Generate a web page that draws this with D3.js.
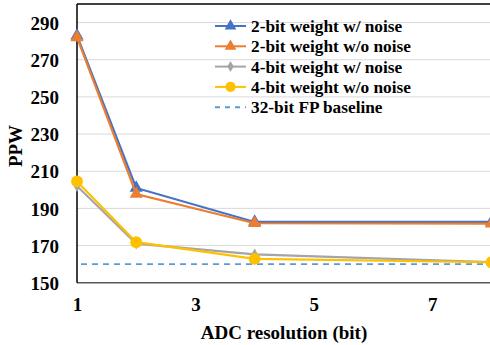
<!DOCTYPE html>
<html>
<head>
<meta charset="utf-8">
<script src="https://cdn.jsdelivr.net/npm/d3@7/dist/d3.min.js"></script>
<style>
  body { margin: 0; background: #fff; }
  svg { display: block; }
</style>
</head>
<body>
<div id="chart"></div>
<script>
// data
var adcBits = [1, 2, 4, 8];
var w2Noise = [283, 201, 182.7, 182.7];
var w2NoNoise = [282, 197.7, 182, 181.8];
var w4Noise = [202, 171, 165.2, 161];
var w4NoNoise = [204.5, 171.8, 162.8, 161];
var fpBaseline = 160;
var yTicks = [150, 170, 190, 210, 230, 250, 270, 290];
var xTicks = [1, 3, 5, 7];
var seriesNames = ["2-bit weight w/ noise", "2-bit weight w/o noise", "4-bit weight w/ noise", "4-bit weight w/o noise", "32-bit FP baseline"];

var FONT = "Liberation Serif";
var W = 490, H = 345;
var svg = d3.select("#chart").append("svg").attr("width", W).attr("height", H);

var x = d3.scaleLinear().domain([1, 8]).range([77, 491.5]);
var y = d3.scaleLinear().domain([150, 300]).range([282.7, 4]);

// grid
svg.append("g").selectAll("line").data(yTicks.slice(1)).enter().append("line")
  .attr("x1", x(1)).attr("x2", W)
  .attr("y1", function(d) { return y(d); }).attr("y2", function(d) { return y(d); })
  .attr("stroke", "#d9d9d9").attr("stroke-width", 1);

// frame
svg.append("line").attr("x1", x(1)).attr("x2", W).attr("y1", y(300)).attr("y2", y(300))
  .attr("stroke", "#000").attr("stroke-width", 1.5);
svg.append("line").attr("x1", x(1)).attr("x2", W).attr("y1", y(150)).attr("y2", y(150))
  .attr("stroke", "#595959").attr("stroke-width", 1.5);
svg.append("line").attr("x1", x(1)).attr("x2", x(1)).attr("y1", y(300)).attr("y2", y(150))
  .attr("stroke", "#000").attr("stroke-width", 1.5);

// axes labels
var yAxis = d3.axisLeft(y).tickValues(yTicks).tickSize(0).tickPadding(18);
var gy = svg.append("g").attr("transform", "translate(" + x(1) + ",0)").call(yAxis);
gy.select(".domain").remove();
gy.attr("font-family", FONT).attr("font-size", 19).attr("font-weight", "bold");
gy.selectAll("text").attr("fill", "#000").attr("dy", "0.35em");

var xAxis = d3.axisBottom(x).tickValues(xTicks).tickFormat(d3.format("d")).tickSize(0).tickPadding(15);
var gx = svg.append("g").attr("transform", "translate(0," + y(150) + ")").call(xAxis);
gx.select(".domain").remove();
gx.attr("font-family", FONT).attr("font-size", 19).attr("font-weight", "bold");
gx.selectAll("text").attr("fill", "#000");

svg.append("text").attr("x", 284).attr("y", 339).attr("text-anchor", "middle")
  .attr("font-family", FONT).attr("font-size", 19).attr("font-weight", "bold")
  .text("ADC resolution (bit)");
svg.append("text").attr("transform", "translate(22,146) rotate(-90)").attr("text-anchor", "middle")
  .attr("font-family", FONT).attr("font-size", 19).attr("font-weight", "bold")
  .text("PPW");

// baseline
svg.append("line").attr("x1", x(1) + 4).attr("x2", W)
  .attr("y1", y(fpBaseline)).attr("y2", y(fpBaseline))
  .attr("stroke", "#5b9bd5").attr("stroke-width", 1.8).attr("stroke-dasharray", "6,5");

var series = [
  { vals: w4Noise, color: "#a5a5a5", shape: d3.symbolDiamond, size: 40 },
  { vals: w4NoNoise, color: "#ffc000", shape: d3.symbolCircle, size: 110 },
  { vals: w2Noise, color: "#4472c4", shape: d3.symbolTriangle, size: 75 },
  { vals: w2NoNoise, color: "#ed7d31", shape: d3.symbolTriangle, size: 75 }
];

var line = d3.line().x(function(d) { return x(d[0]); }).y(function(d) { return y(d[1]); });

series.forEach(function(s) {
  var pts = adcBits.map(function(b, i) { return [b, s.vals[i]]; });
  svg.append("path").datum(pts).attr("d", line)
    .attr("fill", "none").attr("stroke", s.color).attr("stroke-width", 2.2);
  svg.append("g").selectAll("path").data(pts).enter().append("path")
    .attr("d", d3.symbol().type(s.shape).size(s.size))
    .attr("transform", function(d) { return "translate(" + x(d[0]) + "," + y(d[1]) + ")"; })
    .attr("fill", s.color);
});

// legend
var legendItems = [
  { color: "#4472c4", shape: d3.symbolTriangle, size: 60 },
  { color: "#ed7d31", shape: d3.symbolTriangle, size: 60 },
  { color: "#a5a5a5", shape: d3.symbolDiamond, size: 35 },
  { color: "#ffc000", shape: d3.symbolCircle, size: 80 },
  { color: "#5b9bd5", dash: true }
];
var lg = svg.append("g");
legendItems.forEach(function(it, i) {
  var ly = 26 + i * 20.3;
  var row = lg.append("g").attr("transform", "translate(0," + ly + ")");
  row.append("line").attr("x1", 215).attr("x2", 246).attr("y1", 0).attr("y2", 0)
    .attr("stroke", it.color).attr("stroke-width", 2)
    .attr("stroke-dasharray", it.dash ? "5,5" : null);
  if (!it.dash) {
    row.append("path").attr("d", d3.symbol().type(it.shape).size(it.size))
      .attr("transform", "translate(230.5,0)").attr("fill", it.color);
  }
  row.append("text").attr("x", 251).attr("y", 0).attr("dy", "0.35em")
    .attr("font-family", FONT).attr("font-size", 17.3).attr("font-weight", "bold")
    .attr("fill", "#000").text(seriesNames[i]);
});
</script>
</body>
</html>
